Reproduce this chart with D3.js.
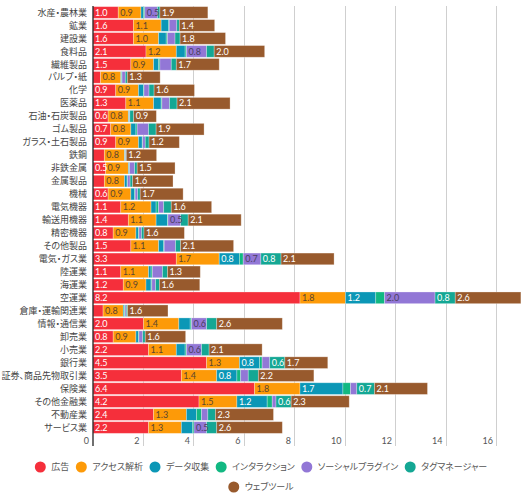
<!DOCTYPE html>
<html><head><meta charset="utf-8">
<script src="https://cdn.jsdelivr.net/npm/d3@7"></script>
<style>
html,body{margin:0;padding:0;background:#fff;}
svg{display:block;font-family:Lato,"Noto Sans CJK JP",sans-serif;}
.jp{font-feature-settings:"palt" 1;}
</style></head>
<body><svg id="chart" width="529" height="499"></svg>
<script>
const categories = ["水産・農林業","鉱業","建設業","食料品","繊維製品","パルプ・紙","化学","医薬品","石油・石炭製品","ゴム製品","ガラス・土石製品","鉄鋼","非鉄金属","金属製品","機械","電気機器","輸送用機器","精密機器","その他製品","電気・ガス業","陸運業","海運業","空運業","倉庫・運輸関連業","情報・通信業","卸売業","小売業","銀行業","証券、商品先物取引業","保険業","その他金融業","不動産業","サービス業"];
const seriesNames = ["広告","アクセス解析","データ収集","インタラクション","ソーシャルプラグイン","タグマネージャー","ウェブツール"];
const ad          = [1.0,1.6,1.6,2.1,1.5,0.3,0.9,1.3,0.6,0.7,0.9,0.45,0.5,0.45,0.6,1.1,1.4,0.8,1.5,3.3,1.1,1.2,8.2,0.4,2.0,0.8,2.2,4.5,3.5,6.4,4.2,2.4,2.2];
const access      = [0.9,1.1,1.0,1.2,0.9,0.8,0.9,1.1,0.8,0.8,0.9,0.8,0.9,0.8,0.9,1.2,1.1,0.9,1.1,1.7,1.1,0.9,1.8,0.8,1.4,0.9,1.1,1.3,1.4,1.8,1.5,1.3,1.3];
const dataCol     = [0.1,0.3,0.3,0.35,0.2,0.03,0.2,0.3,0.02,0.2,0.15,0.02,0.03,0.1,0.15,0.2,0.45,0.1,0.2,0.8,0.1,0.2,1.2,0.05,0.45,0.1,0.35,0.8,0.8,1.7,1.2,0.4,0.45];
const interaction = [0.05,0.02,0.05,0.05,0.05,0.02,0.02,0.03,0.02,0.05,0.02,0.01,0.02,0.02,0.02,0.1,0.02,0.02,0.02,0.15,0.05,0.03,0.35,0.02,0.05,0.02,0.05,0.1,0.15,0.3,0.2,0.2,0.05];
const social      = [0.5,0.3,0.3,0.8,0.45,0.13,0.2,0.3,0.02,0.45,0.1,0.02,0.2,0.1,0.1,0.2,0.5,0.1,0.45,0.7,0.4,0.15,2.0,0.05,0.6,0.15,0.6,0.3,0.3,0.25,0.15,0.25,0.5];
const tag         = [0.1,0.1,0.2,0.3,0.2,0.08,0.2,0.3,0.15,0.3,0.15,0.02,0.1,0.1,0.1,0.3,0.3,0.1,0.2,0.8,0.2,0.15,0.8,0.05,0.4,0.1,0.3,0.6,0.4,0.7,0.6,0.3,0.4];
const webtool     = [1.9,1.4,1.8,2.0,1.7,1.3,1.6,2.1,0.9,1.9,1.2,1.2,1.5,1.6,1.7,1.6,2.1,1.6,2.1,2.1,1.3,1.6,2.6,1.6,2.6,1.6,2.1,1.7,2.2,2.1,2.3,2.3,2.6];
const xTicks = [0,2,4,6,8,10,12,14,16];
const colors = ["#f52f3b","#fd9a08","#0b97b6","#12b882","#9277d6","#14a794","#985a2d"];
const labelColors = ["#fff","#5b4630","#fff","#fff","#4a3f60","#fff","#fff"];

const seriesVals = [ad, access, dataCol, interaction, social, tag, webtool];
const rows = categories.map((c,i)=>{const o={cat:c}; seriesNames.forEach((s,j)=>o[s]=seriesVals[j][i]); return o;});
const stack = d3.stack().keys(seriesNames)(rows);

const svg = d3.select("#chart");
const m = {left:93, top:6, right:507, bottom:434};
const x = d3.scaleLinear().domain([0,16.4]).range([m.left, 507]);
const y = d3.scaleBand().domain(categories).range([m.top, m.bottom]).paddingInner(0.1).paddingOuter(0.05);

// gridlines + tick labels
const g = svg.append("g");
g.selectAll("line.grid").data(xTicks.filter(t=>t>0)).join("line")
  .attr("x1",d=>x(d)).attr("x2",d=>x(d)).attr("y1",m.top).attr("y2",446)
  .attr("stroke","#cfcfcf").attr("stroke-width",1).attr("shape-rendering","crispEdges");
g.selectAll("text.tick").data(xTicks).join("text")
  .attr("x",d=>x(d)-4).attr("y",444).attr("text-anchor","end")
  .attr("font-size",9).attr("fill","#555").text(d=>d);

// bars
const layer = svg.append("g").selectAll("g").data(stack).join("g").attr("fill",(d,i)=>colors[i]);
layer.selectAll("rect").data(d=>d.map(v=>({v, key:d.key}))).join("rect")
  .attr("x",d=>x(d.v[0])).attr("width",d=>Math.max(0,x(d.v[1])-x(d.v[0])))
  .attr("y",d=>y(d.v.data.cat)).attr("height",y.bandwidth())
  .attr("stroke","#fff").attr("stroke-opacity",0.35).attr("stroke-width",0.8);

// value labels
stack.forEach((s,i)=>{
  svg.append("g").selectAll("text").data(s.filter(v=>(v[1]-v[0])>=0.495)).join("text")
    .attr("x",v=>x(v[0])+2).attr("y",v=>y(v.data.cat)+y.bandwidth()/2).attr("dy","0.35em")
    .attr("font-size",9).attr("fill",labelColors[i])
    .text(v=>(v[1]-v[0]).toFixed(1));
});

// y axis line and category labels
svg.append("line").attr("x1",m.left).attr("x2",m.left).attr("y1",m.top).attr("y2",446)
  .attr("stroke","#222").attr("stroke-width",1.3);
svg.append("g").attr("class","jp").selectAll("text").data(categories).join("text")
  .attr("x",87).attr("y",d=>y(d)+y.bandwidth()/2).attr("dy","0.35em")
  .attr("text-anchor","end").attr("font-size",9).attr("fill","#444").text(d=>d);

// legend
const legend = svg.append("g").attr("class","jp").attr("font-size",9).attr("fill","#555");
const r = 5.5, gapText = 5.5, gapItem = 6.5, maxW = 480;
const tmp = legend.append("text").attr("visibility","hidden");
const items = seriesNames.map((n,i)=>{tmp.text(n); return {n,i,w:2*r+gapText+tmp.node().getComputedTextLength()};});
tmp.remove();
const lines=[[]]; let cur=0;
items.forEach(it=>{ if(cur>0 && cur+gapItem+it.w>maxW){lines.push([]);cur=0;} cur += (cur>0?gapItem:0)+it.w; lines[lines.length-1].push(it);});
lines.forEach((ln,li)=>{
  const tw = d3.sum(ln,d=>d.w)+gapItem*(ln.length-1);
  let px = 261 - tw/2; const py = 467 + li*20;
  ln.forEach(it=>{
    legend.append("circle").attr("cx",px+r).attr("cy",py).attr("r",r).attr("fill",colors[it.i]);
    legend.append("text").attr("x",px+2*r+gapText).attr("y",py).attr("dy","0.35em").text(it.n);
    px += it.w+gapItem;
  });
});
</script></body></html>
